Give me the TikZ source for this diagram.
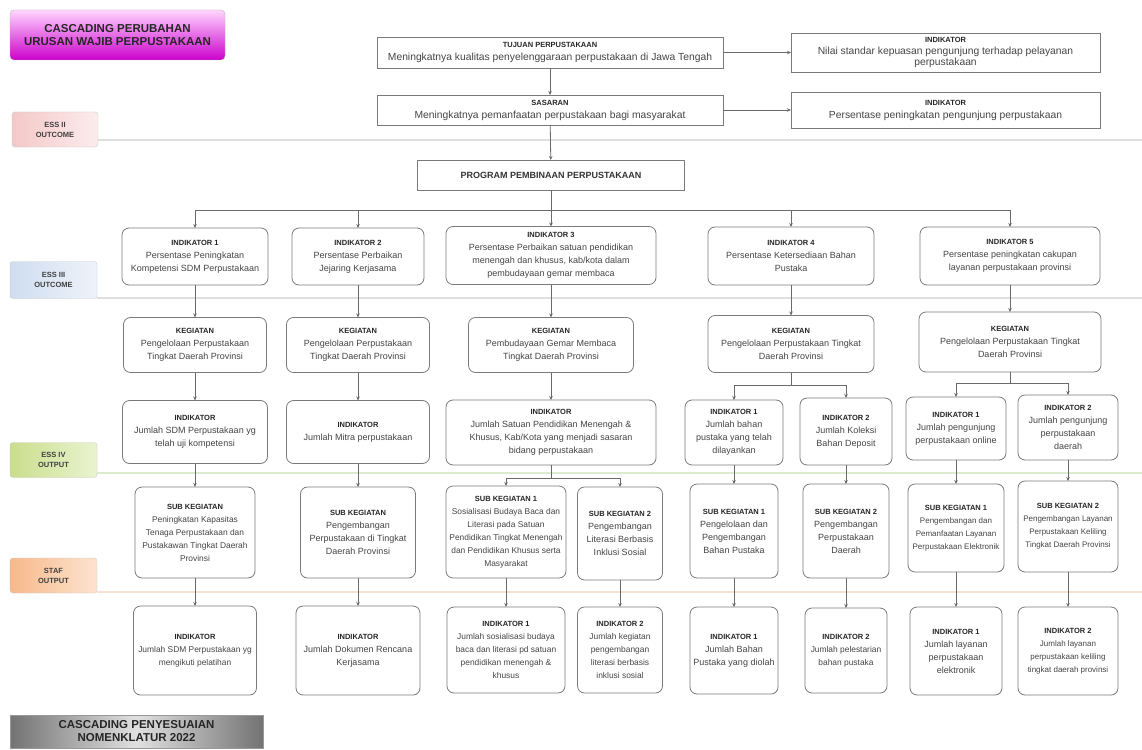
\documentclass[tikz,border=0pt]{standalone}
\usepackage{fontspec}
\setmainfont{Liberation Sans}
\usetikzlibrary{arrows.meta}
\definecolor{lnc}{HTML}{6A6A6A}
\definecolor{bdr}{HTML}{7A7A7A}
\definecolor{txt}{HTML}{454545}
\definecolor{magtop}{HTML}{FFD6FF}
\definecolor{magbot}{HTML}{CC00CC}
\definecolor{pinkA}{HTML}{F5C8C8}
\definecolor{pinkB}{HTML}{FCECEC}
\definecolor{blueA}{HTML}{CFDDF0}
\definecolor{blueB}{HTML}{EEF3FA}
\definecolor{greenA}{HTML}{C9DE8C}
\definecolor{greenB}{HTML}{EAF3D0}
\definecolor{orA}{HTML}{F7B98A}
\definecolor{orB}{HTML}{FCE3D0}
\definecolor{sepG}{HTML}{E0E0E0}
\definecolor{sepGr}{HTML}{DCEBCD}
\definecolor{sepO}{HTML}{F8E2D4}
\newcommand\hd[1]{{\fontsize{7.5}{13}\selectfont\bfseries\color{black!85}#1}\\}
\begin{document}
\begin{tikzpicture}[x=1pt,y=-1pt,
  every node/.style={inner sep=1pt, outer sep=0pt},
  sbox/.style={draw=bdr, line width=0.8pt, fill=white, align=center, font=\fontsize{9}{13}\selectfont, text=txt},
  tbox/.style={sbox, font=\fontsize{10.3}{13}\selectfont},
  rbox/.style={sbox, rounded corners=7pt},
  nbox/.style={rbox, font=\fontsize{8.4}{13}\selectfont},
  lab/.style={rounded corners=3pt, draw=black!20, align=center, font=\fontsize{7.5}{10}\selectfont\bfseries, text=black!75},
  ln/.style={draw=lnc, line width=0.8pt},
  arr/.style={ln, -{Stealth[length=4pt,width=3.5pt]}},
  sep/.style={line width=1.6pt}]
\useasboundingbox (0,0) rectangle (1142,749);
\fill[white] (0,0) rectangle (1142,749);
% separators
\draw[sep, sepG] (98,140) -- (1142,140);
\draw[sep, sepG] (97,298) -- (1142,298);
\draw[sep, sepGr] (97,473) -- (1142,473);
\draw[sep, sepO] (97,592) -- (1142,592);
% titles and labels
\node[rounded corners=4pt, draw=black!30, top color=magtop, bottom color=magbot, minimum width=215pt, minimum height=50pt, align=center, font=\fontsize{11.5}{13.5}\selectfont\bfseries, text=black!85] (t1) at (117.5,35) {CASCADING PERUBAHAN\\URUSAN WAJIB PERPUSTAKAAN};
\node[lab, left color=pinkA, right color=pinkB, minimum width=86pt, minimum height=35pt] (l1) at (55,129.5) {ESS II\\OUTCOME};
\node[lab, left color=blueA, right color=blueB, minimum width=87pt, minimum height=37pt] (l2) at (53.5,280) {ESS III\\OUTCOME};
\node[lab, left color=greenA, right color=greenB, minimum width=87pt, minimum height=35pt] (l3) at (53.5,460) {ESS IV\\OUTPUT};
\node[lab, left color=orA, right color=orB, minimum width=87pt, minimum height=35pt] (l4) at (53.5,575.5) {STAF\\OUTPUT};
\node[draw=black!40, left color=black!55, right color=black!55, middle color=black!12, minimum width=253pt, minimum height=33pt, align=center, font=\fontsize{11.5}{13}\selectfont\bfseries, text=black!85] (t2) at (136.5,731.5) {CASCADING PENYESUAIAN\\NOMENKLATUR 2022};
% top boxes
\node[tbox, minimum width=346pt, minimum height=31pt] (tuj) at (550,52.5) {\hd{TUJUAN PERPUSTAKAAN}Meningkatnya kualitas penyelenggaraan perpustakaan di Jawa Tengah};
\node[tbox, minimum width=309pt, minimum height=39pt, font=\fontsize{10.3}{11.5}\selectfont] (it1) at (945.5,52.5) {\hd{INDIKATOR}Nilai standar kepuasan pengunjung terhadap pelayanan\\perpustakaan};
\node[tbox, minimum width=346pt, minimum height=30pt] (sas) at (550,110) {\hd{SASARAN}Meningkatnya pemanfaatan perpustakaan bagi masyarakat};
\node[tbox, minimum width=309pt, minimum height=36pt] (it2) at (945.5,110) {\hd{INDIKATOR}Persentase peningkatan pengunjung perpustakaan};
\node[sbox, minimum width=267pt, minimum height=30pt, font=\fontsize{9}{11}\selectfont\bfseries, text=black!80] (prog) at (551,175) {PROGRAM PEMBINAAN PERPUSTAKAAN};
\draw[arr] (tuj) -- (sas);
\draw[arr] (sas) -- (prog);
\draw[arr] (tuj) -- (it1);
\draw[arr] (sas) -- (it2);
% row 1
\node[rbox, minimum width=146pt, minimum height=57pt] (i1) at (195,256.5) {\hd{INDIKATOR 1}Persentase Peningkatan\\Kompetensi SDM Perpustakaan};
\node[rbox, minimum width=132pt, minimum height=57pt] (i2) at (358,256.5) {\hd{INDIKATOR 2}Persentase Perbaikan\\Jejaring Kerjasama};
\node[rbox, minimum width=210pt, minimum height=58pt] (i3) at (551,255.5) {\hd{INDIKATOR 3}Persentase Perbaikan satuan pendidikan\\menengah dan khusus, kab/kota dalam\\pembudayaan gemar membaca};
\node[rbox, minimum width=166pt, minimum height=58pt] (i4) at (791,256) {\hd{INDIKATOR 4}Persentase Ketersediaan Bahan\\Pustaka};
\node[rbox, minimum width=180pt, minimum height=58pt] (i5) at (1010,256) {\hd{INDIKATOR 5}Persentase peningkatan cakupan\\layanan perpustakaan provinsi};
\coordinate (pb) at (551,210);
\draw[ln] (prog) -- (pb);
\draw[ln] (i1.north |- pb) -- (i5.north |- pb);
\foreach \n in {i1,i2,i3,i4,i5} \draw[arr] (\n.north |- pb) -- (\n.north);
% row 2
\node[rbox, minimum width=143pt, minimum height=55pt] (k1) at (195,345) {\hd{KEGIATAN}Pengelolaan Perpustakaan\\Tingkat Daerah Provinsi};
\node[rbox, minimum width=143pt, minimum height=55pt] (k2) at (358,345) {\hd{KEGIATAN}Pengelolaan Perpustakaan\\Tingkat Daerah Provinsi};
\node[rbox, minimum width=165pt, minimum height=55pt] (k3) at (551,345) {\hd{KEGIATAN}Pembudayaan Gemar Membaca\\Tingkat Daerah Provinsi};
\node[rbox, minimum width=166pt, minimum height=57pt] (k4) at (791,344) {\hd{KEGIATAN}Pengelolaan Perpustakaan Tingkat\\Daerah Provinsi};
\node[rbox, minimum width=182pt, minimum height=60pt] (k5) at (1010,342) {\hd{KEGIATAN}Pengelolaan Perpustakaan Tingkat\\Daerah Provinsi};
\foreach \n in {1,...,5} \draw[arr] (i\n) -- (k\n);
% row 3
\node[rbox, minimum width=145pt, minimum height=63pt] (j1) at (195,432) {\hd{INDIKATOR}Jumlah SDM Perpustakaan yg\\telah uji kompetensi};
\node[rbox, minimum width=143pt, minimum height=63pt] (j2) at (358,432) {\hd{INDIKATOR}Jumlah Mitra perpustakaan};
\node[rbox, minimum width=210pt, minimum height=65pt] (j3) at (551,432.5) {\hd{INDIKATOR}Jumlah Satuan Pendidikan Menengah \&\\Khusus, Kab/Kota yang menjadi sasaran\\bidang perpustakaan};
\node[rbox, minimum width=98pt, minimum height=65pt] (j4a) at (734,432.5) {\hd{INDIKATOR 1}Jumlah bahan\\pustaka yang telah\\dilayankan};
\node[rbox, minimum width=92pt, minimum height=67pt] (j4b) at (846,431.5) {\hd{INDIKATOR 2}Jumlah Koleksi\\Bahan Deposit};
\node[rbox, minimum width=100pt, minimum height=63pt] (j5a) at (956,428.5) {\hd{INDIKATOR 1}Jumlah pengunjung\\perpustakaan online};
\node[rbox, minimum width=100pt, minimum height=65pt] (j5b) at (1068,427.5) {\hd{INDIKATOR 2}Jumlah pengunjung\\perpustakaan\\daerah};
\draw[arr] (k1) -- (j1);
\draw[arr] (k2) -- (j2);
\draw[arr] (k3) -- (j3);
\coordinate (b4) at (791,385);
\draw[ln] (k4) -- (b4);
\draw[ln] (j4a.north |- b4) -- (j4b.north |- b4);
\draw[arr] (j4a.north |- b4) -- (j4a.north);
\draw[arr] (j4b.north |- b4) -- (j4b.north);
\coordinate (b5) at (1010,383);
\draw[ln] (k5) -- (b5);
\draw[ln] (j5a.north |- b5) -- (j5b.north |- b5);
\draw[arr] (j5a.north |- b5) -- (j5a.north);
\draw[arr] (j5b.north |- b5) -- (j5b.north);
% row 4
\node[nbox, minimum width=120pt, minimum height=91pt] (s1) at (195,532.5) {\hd{SUB KEGIATAN}Peningkatan Kapasitas\\Tenaga Perpustakaan dan\\Pustakawan Tingkat Daerah\\Provinsi};
\node[rbox, minimum width=115pt, minimum height=91pt] (s2) at (358,532.5) {\hd{SUB KEGIATAN}Pengembangan\\Perpustakaan di Tingkat\\Daerah Provinsi};
\node[nbox, minimum width=120pt, minimum height=92pt] (s3a) at (506,532) {\hd{SUB KEGIATAN 1}Sosialisasi Budaya Baca dan\\Literasi pada Satuan\\Pendidikan Tingkat Menengah\\dan Pendidikan Khusus serta\\Masyarakat};
\node[rbox, minimum width=85pt, minimum height=93pt] (s3b) at (620,533.5) {\hd{SUB KEGIATAN 2}Pengembangan\\Literasi Berbasis\\Inklusi Sosial};
\node[rbox, minimum width=88pt, minimum height=94pt] (s4a) at (734,531) {\hd{SUB KEGIATAN 1}Pengelolaan dan\\Pengembangan\\Bahan Pustaka};
\node[rbox, minimum width=86pt, minimum height=94pt] (s4b) at (846,531) {\hd{SUB KEGIATAN 2}Pengembangan\\Perpustakaan\\Daerah};
\node[nbox, minimum width=96pt, minimum height=88pt, font=\fontsize{8}{13}\selectfont] (s5a) at (956,528) {\hd{SUB KEGIATAN 1}Pengembangan dan\\Pemanfaatan Layanan\\Perpustakaan Elektronik};
\node[nbox, minimum width=100pt, minimum height=91pt, font=\fontsize{8}{13}\selectfont] (s5b) at (1068,526.5) {\hd{SUB KEGIATAN 2}Pengembangan Layanan\\Perpustakaan Keliling\\Tingkat Daerah Provinsi};
\draw[arr] (j1) -- (s1);
\draw[arr] (j2) -- (s2);
\coordinate (b3) at (551,478);
\draw[ln] (j3) -- (b3);
\draw[ln] (s3a.north |- b3) -- (s3b.north |- b3);
\draw[arr] (s3a.north |- b3) -- (s3a.north);
\draw[arr] (s3b.north |- b3) -- (s3b.north);
\draw[arr] (j4a) -- (s4a);
\draw[arr] (j4b) -- (s4b);
\draw[arr] (j5a) -- (s5a);
\draw[arr] (j5b) -- (s5b);
% row 5
\node[nbox, minimum width=123pt, minimum height=89pt] (n1) at (195,650.5) {\hd{INDIKATOR}Jumlah SDM Perpustakaan yg\\mengikuti pelatihan};
\node[rbox, minimum width=124pt, minimum height=89pt] (n2) at (358,650.5) {\hd{INDIKATOR}Jumlah Dokumen Rencana\\Kerjasama};
\node[nbox, minimum width=118pt, minimum height=86pt] (n3a) at (506,650) {\hd{INDIKATOR 1}Jumlah sosialisasi budaya\\baca dan literasi pd satuan\\pendidikan menengah \&\\khusus};
\node[nbox, minimum width=85pt, minimum height=86pt] (n3b) at (620,650) {\hd{INDIKATOR 2}Jumlah kegiatan\\pengembangan\\literasi berbasis\\inklusi sosial};
\node[rbox, minimum width=88pt, minimum height=87pt] (n4a) at (734,650.5) {\hd{INDIKATOR 1}Jumlah Bahan\\Pustaka yang diolah};
\node[nbox, minimum width=82pt, minimum height=85pt] (n4b) at (846,650.5) {\hd{INDIKATOR 2}Jumlah pelestarian\\bahan pustaka};
\node[rbox, minimum width=92pt, minimum height=88pt] (n5a) at (956,651) {\hd{INDIKATOR 1}Jumlah layanan\\perpustakaan\\elektronik};
\node[nbox, minimum width=100pt, minimum height=88pt, font=\fontsize{8}{13}\selectfont] (n5b) at (1068,651) {\hd{INDIKATOR 2}Jumlah layanan\\perpustakaan keliling\\tingkat daerah provinsi};
\foreach \n in {1,2,3a,3b,4a,4b,5a,5b} \draw[arr] (s\n) -- (n\n);
\end{tikzpicture}
\end{document}
